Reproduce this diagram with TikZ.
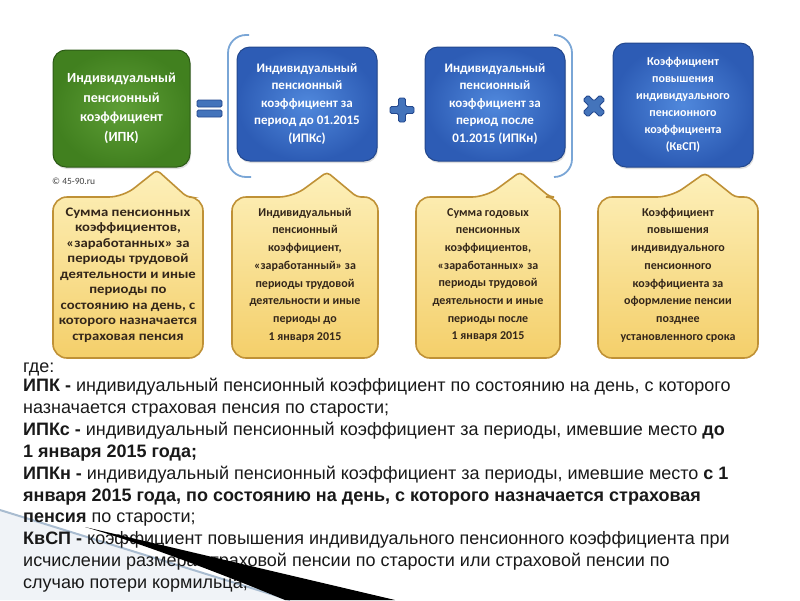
\documentclass[tikz,border=0pt]{standalone}
\usepackage{fontspec}
\setmainfont{Liberation Sans}
\newfontfamily\boxfont{Carlito}
\newfontfamily\widefont[FakeStretch=1.13]{Carlito}
\usetikzlibrary{shadows}

\definecolor{boxBlueIn}{HTML}{5088DC}
\definecolor{boxBlueOut}{HTML}{2D5CB5}
\definecolor{boxBlueLine}{HTML}{23488E}
\definecolor{boxGreenIn}{HTML}{5E9E36}
\definecolor{boxGreenOut}{HTML}{41801F}
\definecolor{boxGreenLine}{HTML}{2C5A16}
\definecolor{bracketBlue}{HTML}{7AA6D6}
\definecolor{noteTop}{HTML}{FDF0BA}
\definecolor{noteBottom}{HTML}{F4CF6A}
\definecolor{noteLine}{HTML}{BF9136}
\definecolor{noteInk}{HTML}{33261A}
\definecolor{swooshGray}{HTML}{F0F3F7}
\definecolor{swooshEdge}{HTML}{A9BCD0}

\begin{document}
\begin{tikzpicture}[x=1pt,y=-1pt]
    \tikzset{
        every node/.style={inner sep=0pt},
        coefbox/.style={rectangle, rounded corners=13pt, draw=boxBlueLine, line width=1pt,
            inner color=boxBlueIn, outer color=boxBlueOut, text=white, align=center,
            font=\boxfont\bfseries\fontsize{13}{17.5}\selectfont, minimum width=140pt,
            drop shadow={opacity=.25, shadow xshift=1pt, shadow yshift=-2pt}},
        greenbox/.style={coefbox, draw=boxGreenLine, inner color=boxGreenIn, outer color=boxGreenOut,
            font=\boxfont\bfseries\fontsize{14}{19.5}\selectfont},
        opsign/.style={draw=boxBlueLine, line width=.8pt, fill=boxBlueIn!85!black, rounded corners=1.5pt},
        bracket/.style={draw=bracketBlue, line width=1.8pt, rounded corners=18pt},
        callout/.style={draw=noteLine, line width=1.6pt, top color=noteTop, bottom color=noteBottom,
            rounded corners=14pt},
        notetext/.style={align=center, text=noteInk, font=\boxfont\bfseries\fontsize{12}{17.7}\selectfont},
        legend/.style={anchor=base west, text=black!90, font=\fontsize{18}{20}\selectfont}
    }
    \useasboundingbox (0,0) rectangle (800,600);

    % formula boxes
    \node[greenbox, minimum width=137pt, minimum height=117pt] (ipk) at (121.5,108.5)
        {Индивидуальный\\пенсионный\\коэффициент\\(ИПК)};
    \node[coefbox, minimum height=114pt] (ipks) at (307,104)
        {Индивидуальный\\пенсионный\\коэффициент за\\период до 01.2015\\(ИПКс)};
    \node[coefbox, minimum height=114pt] (ipkn) at (495,104)
        {Индивидуальный\\пенсионный\\коэффициент за\\период после\\01.2015 (ИПКн)};
    \node[coefbox, minimum height=124pt, font=\boxfont\bfseries\fontsize{12}{17}\selectfont] (kvsp) at (683,105)
        {Коэффициент\\повышения\\индивидуального\\пенсионного\\коэффициента\\(КвСП)};

    % brackets and signs
    \draw[bracket] (249,35) -- (228,35) -- (228,177) -- (251,177);
    \draw[bracket] (554,35) -- (572,35) -- (572,177) -- (554,177);
    \draw[opsign] (197,100) rectangle (222,107);
    \draw[opsign] (197,110) rectangle (222,117);
    \foreach \cx/\cy/\ang in {402/110/0, 594/106/45}
        \draw[opsign, shift={(\cx,\cy)}, rotate=\ang] (-3.5,-12) -- (3.5,-12) -- (3.5,-3.5) -- (12,-3.5)
            -- (12,3.5) -- (3.5,3.5) -- (3.5,12) -- (-3.5,12) -- (-3.5,3.5) -- (-12,3.5)
            -- (-12,-3.5) -- (-3.5,-3.5) -- cycle;

    \node[anchor=west, text=black!75, font=\boxfont\fontsize{9.5}{11}\selectfont] (site) at (52,181) {© 45-90.ru};

    % callouts
    \foreach \xa/\xb/\ax/\ay in {53/203/157/170, 232/378/327/172, 416/560/520/172, 598/758/705/173}
        \draw[callout] (\xa,276) -- (\xa,197) -- (\ax-34,197) [rounded corners=4pt] -- (\ax,\ay)
            -- (\ax+30,197) [rounded corners=14pt] -- (\xb,197) -- (\xb,358) -- (\xa,358) -- cycle;

    \node[notetext, font=\widefont\bfseries\fontsize{13}{15.5}\selectfont] (sum) at (128,275)
        {Сумма пенсионных\\коэффициентов,\\«заработанных» за\\периоды трудовой\\деятельности и иные\\периоды по\\состоянию на день, с\\которого назначается\\страховая пенсия};
    \node[notetext] (before) at (305,275)
        {Индивидуальный\\пенсионный\\коэффициент,\\«заработанный» за\\периоды трудовой\\деятельности и иные\\периоды до\\1 января 2015};
    \node[notetext] (after) at (488,275)
        {Сумма годовых\\пенсионных\\коэффициентов,\\«заработанных» за\\периоды трудовой\\деятельности и иные\\периоды после\\1 января 2015};
    \node[notetext] (raise) at (678,275)
        {Коэффициент\\повышения\\индивидуального\\пенсионного\\коэффициента за\\оформление пенсии\\позднее\\установленного срока};

    % swoosh (back part)
    \fill[swooshGray] (0,510) -- (290,600) -- (0,600) -- cycle;
    \draw[swooshEdge, line width=2pt] (0,510) -- (290,600);

    % legend lines
    \foreach \y/\txt in {372/{где:},
        391/{\textbf{ИПК -} индивидуальный пенсионный коэффициент по состоянию на день, с которого},
        413/{назначается страховая пенсия по старости;},
        435/{\textbf{ИПКс -} индивидуальный пенсионный коэффициент за периоды, имевшие место \textbf{до}},
        457/{\textbf{1 января 2015 года;}},
        479/{\textbf{ИПКн -} индивидуальный пенсионный коэффициент за периоды, имевшие место \textbf{с 1}},
        501/{\textbf{января 2015 года, по состоянию на день, с которого назначается страховая}},
        522/{\textbf{пенсия} по старости;},
        544/{\textbf{КвСП -} коэффициент повышения индивидуального пенсионного коэффициента при},
        566/{исчислении размера страховой пенсии по старости или страховой пенсии по},
        588/{случаю потери кормильца;}}
        \node[legend] at (23,\y) {\txt};

    % swoosh (black wedge)
    \fill[black] (85,527) -- (395,600) -- (285,600) .. controls (200,565) and (130,540) .. cycle;
\end{tikzpicture}
\end{document}
